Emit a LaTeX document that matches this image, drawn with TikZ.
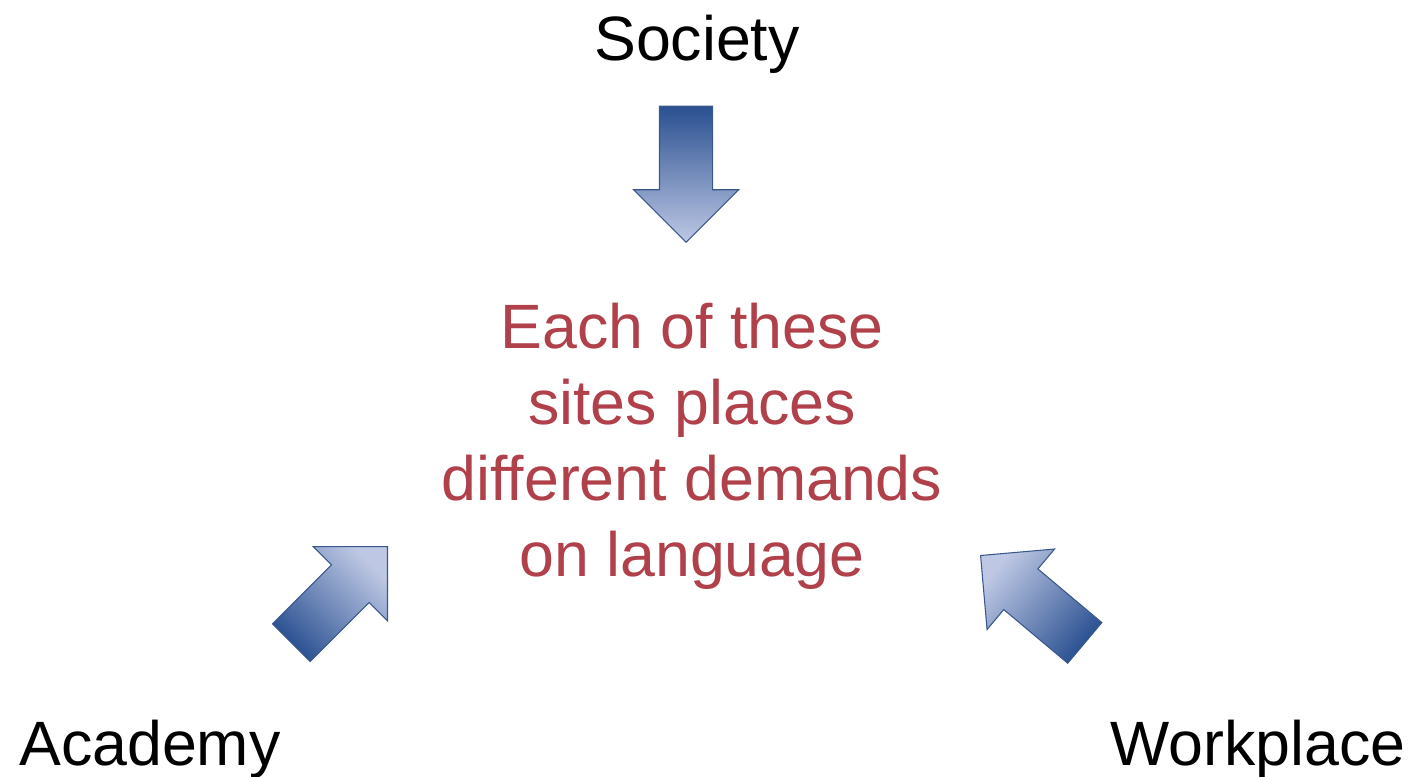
\documentclass[tikz,border=0pt]{standalone}
\usepackage{fontspec}
\setmainfont{Liberation Sans}
\usetikzlibrary{shapes.arrows,positioning}
\definecolor{arrowdark}{RGB}{42,80,145}
\definecolor{arrowlight}{RGB}{190,200,228}
\definecolor{arrowedge}{RGB}{58,88,140}
\definecolor{demandred}{RGB}{176,64,74}
\tikzset{
	%Define style for the big shaded arrows
	bigarrow/.style={
		single arrow,
		draw=arrowedge, thick,
		minimum height=102pt,
		minimum width=78pt,
		single arrow head extend=19.5pt,
		single arrow tip angle=90,
		inner xsep=0pt,
		inner ysep=19.5pt,
		top color=arrowdark,
		bottom color=arrowlight},
	% Define style for the site names
	site/.style={
		inner sep=0pt,
		font=\fontsize{47}{57}\selectfont},
	% Define style for the middle text
	claim/.style={
		inner sep=0pt,
		text=demandred,
		align=center,
		font=\fontsize{47}{57}\selectfont}
}
\begin{document}
\begin{tikzpicture}[x=0.75pt,y=-0.75pt]
	
	\useasboundingbox (0,0) rectangle (1413,776);
	
	\node[site, anchor=base] (society) at (697,60) {Society};
	\node[site, anchor=base west] (academy) at (19,765) {Academy};
	\node[site, anchor=base east] (workplace) at (1406,765) {Workplace};
	
	\node[bigarrow, rotate=-90, anchor=tip, shading angle=0] (societyarrow) at (686,243) {};
	\node[bigarrow, rotate=45, anchor=tip, shading angle=135] (academyarrow) at (388,546) {};
	\node[bigarrow, rotate=140, anchor=tip, shading angle=230] (workplacearrow) at (980,555) {};
	
	\node[claim, anchor=north] (demands) at (692,303) {Each of these\\sites places\\different demands\\on language};
	
\end{tikzpicture}
\end{document}
